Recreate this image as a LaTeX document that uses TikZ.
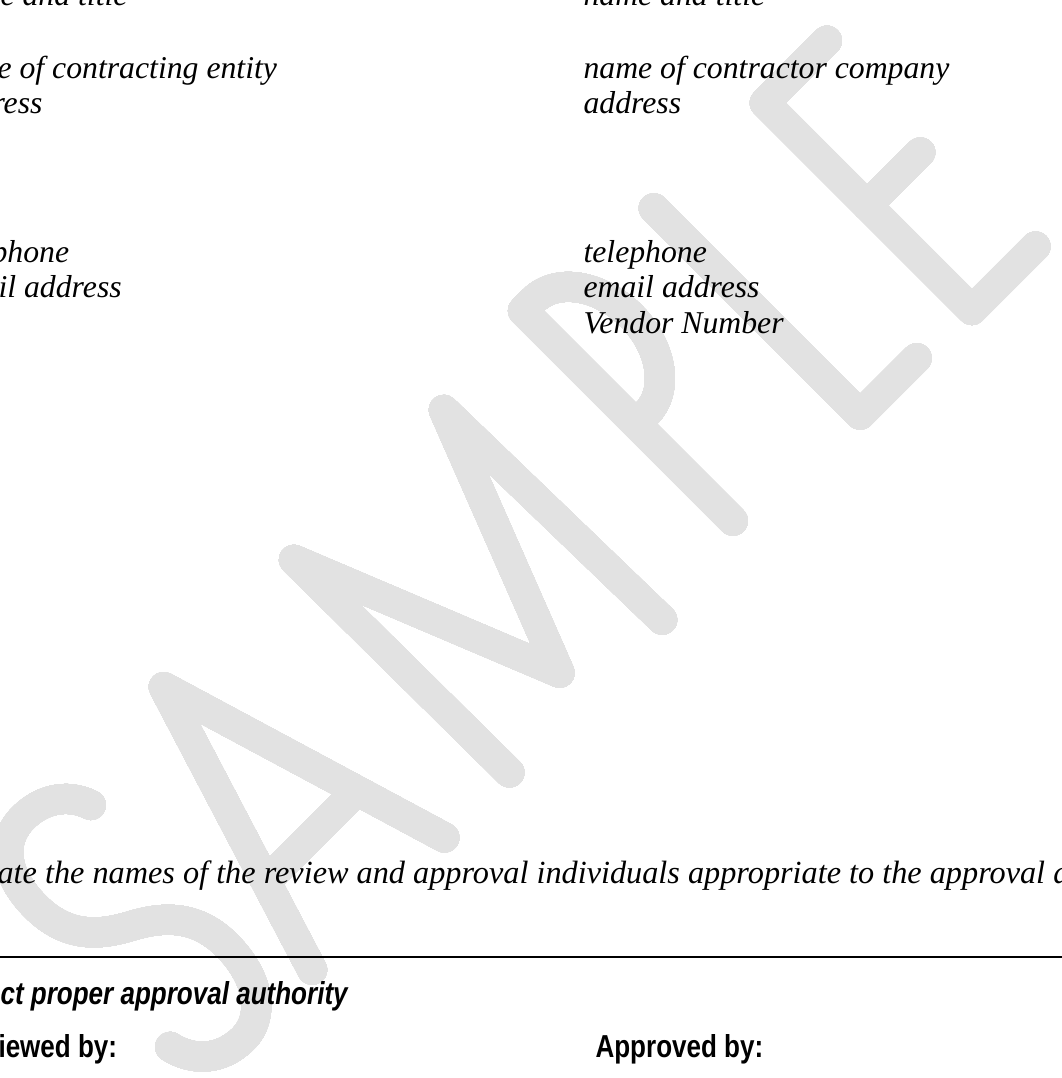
\documentclass[tikz,border=0pt]{standalone}
\usepackage{fontspec}
\setmainfont{Liberation Serif}
\newfontfamily\narrowsans[FakeStretch=0.82]{Liberation Sans}
\usetikzlibrary{patterns}
\definecolor{WaterGray}{RGB}{226,226,226}
\definecolor{GridGray}{RGB}{200,200,200}
\pgfdeclarepatterninherentlycolored{WaterGrid}{\pgfqpoint{-0.3pt}{-0.3pt}}{\pgfqpoint{4.1pt}{4.1pt}}{\pgfqpoint{3.8pt}{3.8pt}}{
  \pgfsetfillcolor{WaterGray}
  \pgfpathrectangle{\pgfqpoint{-0.3pt}{-0.3pt}}{\pgfqpoint{4.4pt}{4.4pt}}
  \pgfusepath{fill}
  \pgfsetfillcolor{GridGray}
  \pgfpathrectangle{\pgfqpoint{-0.3pt}{1.7pt}}{\pgfqpoint{4.4pt}{0.38pt}}
  \pgfpathrectangle{\pgfqpoint{1.7pt}{-0.3pt}}{\pgfqpoint{0.38pt}{4.4pt}}
  \pgfusepath{fill}
}
\tikzstyle{WaterStroke}=[draw=black, line width=11.34pt, line cap=round, line join=round]
\tikzstyle{WaterFill}=[pattern=WaterGrid]
\tikzstyle{FormText}=[anchor=base west, inner sep=0pt, font=\fontsize{12}{14}\selectfont\itshape]
\tikzstyle{NoteText}=[FormText, font=\fontsize{12.2}{14}\selectfont\itshape]
\tikzstyle{HeadText}=[FormText, font=\fontsize{12}{14}\selectfont\narrowsans\bfseries\itshape]
\tikzstyle{SignText}=[FormText, font=\fontsize{12}{14}\selectfont\narrowsans\bfseries]
\tikzstyle{RuleLine}=[line width=1pt]

\begin{document}
\begin{tikzpicture}[x=0.378pt, y=-0.378pt]
\useasboundingbox (0,0) rectangle (1062,1078);
\clip (0,0) rectangle (1062,1078);
\fill[white] (0,0) rectangle (1062,1078);

% watermark, letters in a turned frame
\coordinate (WaterO) at (641,641);
\begin{scope}[shift={(WaterO)}, x={(45:0.378pt)}, y={(135:0.378pt)}]
\draw[WaterStroke] (-505,273) .. controls (-514,300) and (-538,312) .. (-562,312)
  .. controls (-594,312) and (-616,286) .. (-616,240)
  .. controls (-616,192) and (-586,172) .. (-562,159)
  .. controls (-534,144) and (-508,122) .. (-508,78)
  .. controls (-508,28) and (-534,0) .. (-562,0)
  .. controls (-594,0) and (-614,20) .. (-620,46);
\draw[WaterStroke] (-465,0) -- (-370,305) -- (-278,0);
\draw[WaterStroke] (-435,95) -- (-307,95);
\draw[WaterStroke] (-186,0) -- (-188,303) -- (-80,35) -- (24,303) -- (30,0);
\draw[WaterStroke] (150,20) -- (150,317) -- (165,317)
  arc[start angle=90, end angle=-90, x radius=58, y radius=80] -- (150,157);
\draw[WaterStroke] (315,297) -- (315,5) -- (395,5);
\draw[WaterStroke] (556,293) -- (468,293) -- (468,0) -- (558,0);
\draw[WaterStroke] (468,148) -- (543,148);
\end{scope}
\begin{scope}[blend mode=lighten]
\fill[WaterFill] (0,0) rectangle (1062,1078);
\end{scope}

% left column
\node[FormText](LName) at (0,5) {e and title};
\node[FormText](LEntity) at (-3,78) {e of contracting entity};
\node[FormText](LAddr) at (-8,113) {ress};
\node[FormText](LPhone) at (-9,262) {phone};
\node[FormText](LMail) at (-2,297) {il address};

% right column
\node[FormText](RName) at (583,5) {name and title};
\node[FormText](RCompany) at (583,78) {name of contractor company};
\node[FormText](RAddr) at (583,113) {address};
\node[FormText](RPhone) at (583,262) {telephone};
\node[FormText](RMail) at (583,297) {email address};
\node[FormText](RVendor) at (583,333) {Vendor Number};

% approval part
\node[NoteText](Note) at (-3,883) {ate the names of the review and approval individuals appropriate to the approval a};
\coordinate (RuleL) at (0,957);
\coordinate (RuleR) at (1062,957);
\draw[RuleLine] (RuleL) -- (RuleR);
\node[HeadText](Authority) at (0,1004) {ct proper approval authority};
\node[SignText](Reviewed) at (-2,1057) {iewed by:};
\node[SignText](Approved) at (595,1057) {Approved by:};
\end{tikzpicture}
\end{document}
